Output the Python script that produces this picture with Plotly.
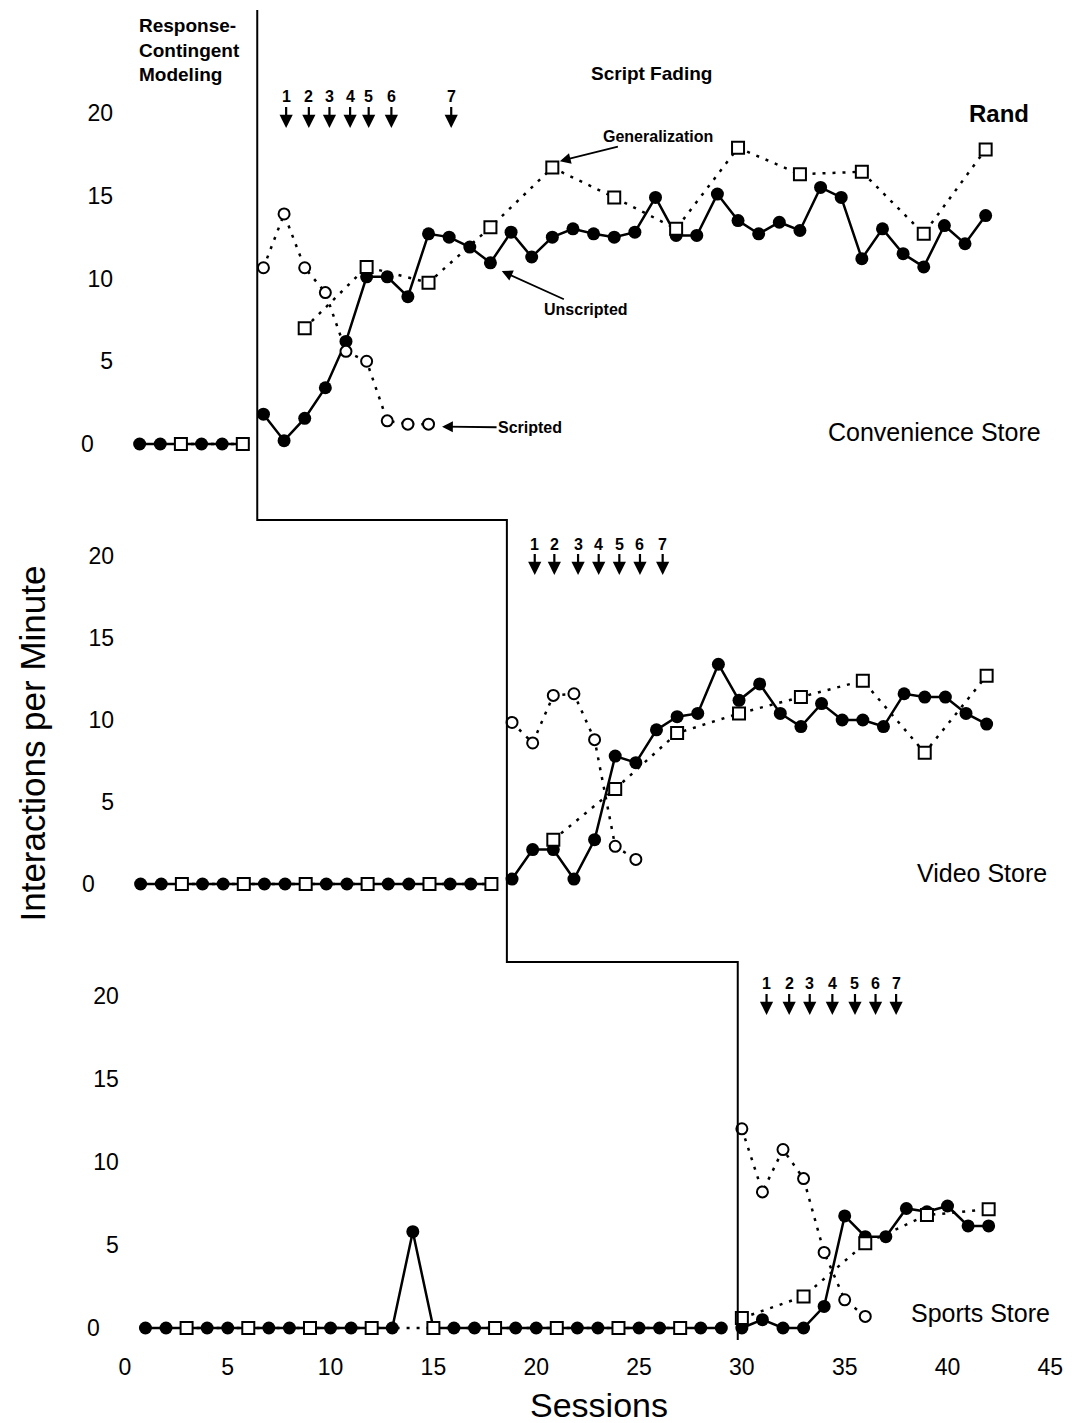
import plotly.graph_objects as go

W, H = 1092, 1423

# ---------------- data ----------------
sessions = list(range(1, 43))
gen_sessions = [3, 6, 9, 12, 15, 18, 21, 24, 27, 30, 33, 36, 39, 42]

# Convenience store
conv_unscripted = [0, 0, 0, 0, 0, 0,
                   1.8, 0.2, 1.55, 3.4, 6.2, 10.1, 10.1, 8.9, 12.7, 12.5, 11.9, 10.95,
                   12.8, 11.3, 12.5, 13.0, 12.7, 12.5, 12.8, 14.9, 12.6, 12.6, 15.1, 13.5,
                   12.7, 13.4, 12.9, 15.5, 14.9, 11.2, 13.0, 11.5, 10.7, 13.2, 12.1, 13.8]
conv_generalization = [0, 0, 7.0, 10.7, 9.75, 13.1, 16.7, 14.9, 13.0, 17.9, 16.3, 16.45, 12.7, 17.8]
conv_scripted_sessions = [7, 8, 9, 10, 11, 12, 13, 14, 15]
conv_scripted = [10.65, 13.9, 10.65, 9.15, 5.6, 5.0, 1.4, 1.2, 1.2]
conv_steps = [8.1, 9.2, 10.2, 11.2, 12.1, 13.2, 16.1]

# Video store
video_unscripted = [0, 0, 0, 0, 0, 0, 0, 0, 0, 0, 0, 0, 0, 0, 0, 0, 0, 0,
                    0.3, 2.1, 2.1, 0.3, 2.7, 7.8, 7.4, 9.4, 10.2, 10.4, 13.4, 11.2,
                    12.2, 10.4, 9.6, 11.0, 10.0, 10.0, 9.6, 11.6, 11.4, 11.4, 10.4, 9.75]
video_generalization = [0, 0, 0, 0, 0, 0, 2.7, 5.8, 9.2, 10.4, 11.4, 12.4, 8.0, 12.7]
video_scripted_sessions = [19, 20, 21, 22, 23, 24, 25]
video_scripted = [9.85, 8.6, 11.5, 11.6, 8.8, 2.3, 1.5]
video_steps = [20.1, 21.05, 22.2, 23.2, 24.2, 25.2, 26.3]

# Sports store
sports_unscripted = [0, 0, 0, 0, 0, 0, 0, 0, 0, 0, 0, 0, 0, 5.8, 0, 0, 0, 0,
                     0, 0, 0, 0, 0, 0, 0, 0, 0, 0, 0,
                     0, 0.5, 0, 0, 1.3, 6.75, 5.5, 5.5, 7.2, 7.0, 7.35, 6.15, 6.15]
sports_generalization = [0, 0, 0, 0, 0, 0, 0, 0, 0, 0.6, 1.9, 5.1, 6.8, 7.15]
sports_scripted_sessions = [30, 31, 32, 33, 34, 35, 36]
sports_scripted = [12.0, 8.2, 10.75, 9.0, 4.55, 1.7, 0.7]
sports_steps = [31.2, 32.3, 33.3, 34.4, 35.5, 36.5, 37.5]

phase_changes = [6.7, 18.75, 29.8]
step_labels = ["1", "2", "3", "4", "5", "6", "7"]
panel_names = ["Convenience Store", "Video Store", "Sports Store"]
y_ticks = [0, 5, 10, 15, 20]
y_ticktext = ["0\u00a0\u00a0\u00a0", "5", "10", "15", "20"]
x_ticks = [0, 5, 10, 15, 20, 25, 30, 35, 40, 45]

# ---------------- layout geometry (pixels) ----------------
FONT = "Liberation Sans, Arial, Helvetica, sans-serif"
XR = (0, 45)
YR = (-1, 21)
panels = [
    dict(xa="x3", ya="y3", xk="xaxis3", yk="yaxis3", x0=115, xs=21.0, y0=444, ys=16.55,
         unscripted=conv_unscripted, gen=conv_generalization,
         s_x=conv_scripted_sessions, s_y=conv_scripted, steps=conv_steps,
         phase=phase_changes[0], tip=19.1, label_xy=(945, 432)),
    dict(xa="x2", ya="y2", xk="xaxis2", yk="yaxis2", x0=116, xs=21.0, y0=884, ys=16.4,
         unscripted=video_unscripted, gen=video_generalization,
         s_x=video_scripted_sessions, s_y=video_scripted, steps=video_steps,
         phase=phase_changes[1], tip=18.84, label_xy=(993, 873)),
    dict(xa="x", ya="y", xk="xaxis", yk="yaxis", x0=121, xs=20.93, y0=1328, ys=16.6,
         unscripted=sports_unscripted, gen=sports_generalization,
         s_x=sports_scripted_sessions, s_y=sports_scripted, steps=sports_steps,
         phase=phase_changes[2], tip=18.86, label_xy=(992, 1313)),
]


def px(xp):
    return xp / W


def py(yp):
    return 1 - yp / H


def split_phase(xs, ys, boundary):
    ox, oy = [], []
    prev = None
    for x, y in zip(xs, ys):
        side = x > boundary
        if prev is not None and side != prev:
            ox.append(None)
            oy.append(None)
        ox.append(x)
        oy.append(y)
        prev = side
    return ox, oy


fig = go.Figure()
layout = dict(
    width=W, height=H, autosize=False,
    margin=dict(l=0, r=0, t=0, b=0, pad=0),
    paper_bgcolor="white", plot_bgcolor="white",
    showlegend=False,
    font=dict(family=FONT, color="black"),
)
shapes = []
annotations = []

DOT = "3px,7px"
for i, p in enumerate(panels):
    xd = [px(p["x0"] + XR[0] * p["xs"]), px(p["x0"] + XR[1] * p["xs"])]
    yd = [py(p["y0"] - YR[0] * p["ys"]), py(p["y0"] - YR[1] * p["ys"])]
    is_bottom = p["xa"] == "x"
    layout[p["xk"]] = dict(domain=xd, range=list(XR), anchor=p["ya"], showgrid=False,
                           zeroline=False, showline=False, ticks="",
                           tickvals=x_ticks, showticklabels=is_bottom,
                           tickfont=dict(size=23, family=FONT, color="black"),
                           ticklabelstandoff=6)
    layout[p["yk"]] = dict(domain=yd, range=list(YR), anchor=p["xa"], showgrid=False,
                           zeroline=False, showline=False, ticks="",
                           tickvals=y_ticks, ticktext=y_ticktext,
                           tickfont=dict(size=23, family=FONT, color="black"),
                           ticklabelstandoff=5)

    # unscripted (filled circles, solid)
    ux, uy = split_phase(sessions, p["unscripted"], p["phase"])
    fig.add_trace(go.Scatter(x=ux, y=uy, xaxis=p["xa"], yaxis=p["ya"], mode="lines+markers",
                             line=dict(color="black", width=2.5),
                             marker=dict(symbol="circle", size=13, color="black"),
                             connectgaps=False, cliponaxis=False))
    # scripted (open circles, dotted)
    fig.add_trace(go.Scatter(x=p["s_x"], y=p["s_y"], xaxis=p["xa"], yaxis=p["ya"],
                             mode="lines+markers",
                             line=dict(color="black", width=2.5, dash=DOT),
                             marker=dict(symbol="circle", size=11, color="white",
                                         line=dict(color="black", width=2)),
                             cliponaxis=False))
    # generalization (open squares, dotted)
    gx, gy = split_phase(gen_sessions, p["gen"], p["phase"])
    fig.add_trace(go.Scatter(x=gx, y=gy, xaxis=p["xa"], yaxis=p["ya"], mode="lines+markers",
                             line=dict(color="black", width=2.5, dash=DOT),
                             marker=dict(symbol="square", size=12, color="white",
                                         line=dict(color="black", width=2)),
                             connectgaps=False, cliponaxis=False))

    # faint dotted y axis line
    shapes.append(dict(type="line", xref=p["xa"], yref=p["ya"], x0=-0.15, x1=-0.15,
                       y0=-0.3, y1=20.5, line=dict(color="#777", width=1, dash="dot")))

    # script fading step arrows
    for s, lab in zip(p["steps"], step_labels):
        annotations.append(dict(x=s, y=p["tip"], xref=p["xa"], yref=p["ya"],
                                text="<b>" + lab + "</b>",
                                showarrow=True, ax=0, ay=-31, arrowhead=2, arrowsize=1.2,
                                arrowwidth=2.2, arrowcolor="black", standoff=0,
                                font=dict(size=16, family=FONT, color="black")))

    lx, ly = p["label_xy"]
    annotations.append(dict(x=px(lx), y=py(ly), xref="paper", yref="paper",
                            text=panel_names[i], showarrow=False,
                            xanchor="center", yanchor="middle",
                            font=dict(size=25, family=FONT, color="black")))

# phase change line (paper coords)
top, mid, bot = panels
pts = [
    (top["x0"] + top["phase"] * top["xs"], 10),
    (top["x0"] + top["phase"] * top["xs"], 520),
    (mid["x0"] + mid["phase"] * mid["xs"], 520),
    (mid["x0"] + mid["phase"] * mid["xs"], 962),
    (bot["x0"] + bot["phase"] * bot["xs"], 962),
    (bot["x0"] + bot["phase"] * bot["xs"], 1340),
]
path = "M " + " L ".join(f"{px(a):.5f},{py(b):.5f}" for a, b in pts)
shapes.append(dict(type="path", xref="paper", yref="paper", path=path,
                   line=dict(color="black", width=2)))

callout = dict(showarrow=True, arrowhead=2, arrowsize=1.2, arrowwidth=1.8,
               arrowcolor="black", standoff=2, font=dict(size=16, family=FONT, color="black"))
annotations += [
    dict(x=px(133), y=py(50), xref="paper", yref="paper", showarrow=False,
         text="<b>Response-<br>Contingent<br>Modeling</b>", align="left",
         xanchor="left", yanchor="middle", font=dict(size=19, family=FONT)),
    dict(x=px(657), y=py(73), xref="paper", yref="paper", showarrow=False,
         text="<b>Script Fading</b>", xanchor="center", yanchor="middle",
         font=dict(size=19, family=FONT)),
    dict(x=px(1011), y=py(113), xref="paper", yref="paper", showarrow=False,
         text="<b>Rand</b>", xanchor="center", yanchor="middle",
         font=dict(size=24, family=FONT)),
    dict(x=px(603), y=py(1405), xref="paper", yref="paper", showarrow=False,
         text="Sessions", xanchor="center", yanchor="middle",
         font=dict(size=34, family=FONT)),
    dict(x=px(27), y=py(744), xref="paper", yref="paper", showarrow=False,
         text="Interactions per Minute", textangle=-90, xanchor="center", yanchor="middle",
         font=dict(size=35, family=FONT)),
    dict(x=21.27, y=17.06, xref="x3", yref="y3", text="<b>Generalization</b>",
         ax=100, ay=-25, **callout),
    dict(x=18.46, y=10.5, xref="x3", yref="y3", text="<b>Unscripted</b>",
         ax=86, ay=39, **callout),
    dict(x=15.56, y=1.05, xref="x3", yref="y3", text="<b>Scripted</b>",
         ax=90, ay=1, **callout),
]

layout["shapes"] = shapes
layout["annotations"] = annotations
fig.update_layout(**layout)
fig.write_html("out.html")
